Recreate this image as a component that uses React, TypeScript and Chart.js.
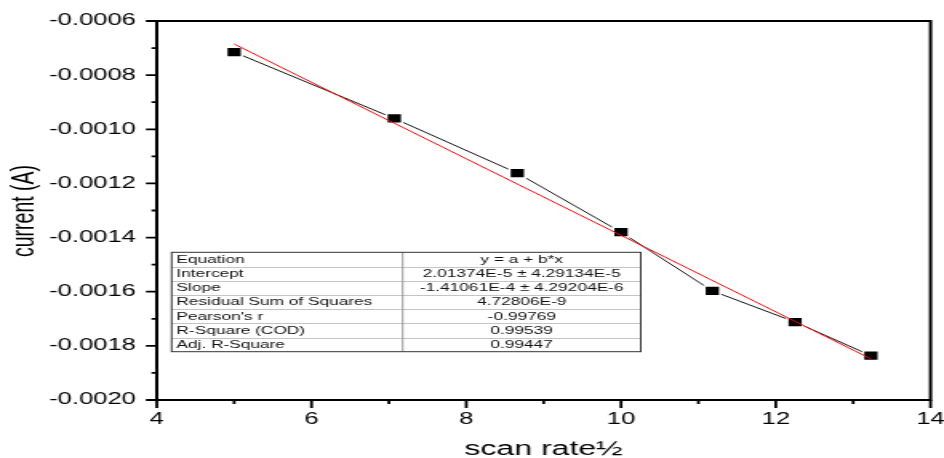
import React, { useEffect, useRef } from "react";
import { Chart, registerables } from "chart.js";

Chart.register(...registerables);

// ---- data ----
const scanRateSqrt = [5.0, 7.07, 8.66, 10.0, 11.18, 12.25, 13.23];
const currentA = [-0.000715, -0.00096, -0.001162, -0.00138, -0.001597, -0.001712, -0.001836];
const fitX = [5.0, 13.23];
const fitY = [-0.000685, -0.001848];

const tableLabels = [
  "Equation",
  "Intercept",
  "Slope",
  "Residual Sum of Squares",
  "Pearson's r",
  "R-Square (COD)",
  "Adj. R-Square",
];
const tableValues = [
  "y = a + b*x",
  "2.01374E-5 ± 4.29134E-5",
  "-1.41061E-4 ± 4.29204E-6",
  "4.72806E-9",
  "-0.99769",
  "0.99539",
  "0.99447",
];

const xTitle = "scan rate½";
const yTitle = "current (A)";

const FONT = '"Liberation Sans", Arial, Helvetica, sans-serif';

// canvas is drawn at 590 px wide and stretched to 944 px (like the reference)
const CANVAS_W = 590;
const CANVAS_H = 458;

const decorPlugin = {
  id: "decor",
  afterDatasetsDraw(chart: any) {
    const ctx = chart.ctx as CanvasRenderingContext2D;
    // fit statistics table
    const x0 = 107.3;
    const x1 = 251.7;
    const x2 = 400.5;
    const y0 = 252.3;
    const rowH = 14.2;
    const n = tableLabels.length;
    ctx.save();
    ctx.fillStyle = "#ffffff";
    ctx.fillRect(x0, y0, x2 - x0, rowH * n);
    ctx.lineWidth = 1;
    ctx.strokeStyle = "#c4c4c4";
    ctx.beginPath();
    for (let i = 1; i < n; i++) {
      const yy = Math.round(y0 + i * rowH) + 0.5;
      ctx.moveTo(x0, yy);
      ctx.lineTo(x2, yy);
    }
    ctx.stroke();
    ctx.strokeStyle = "#9a9a9a";
    ctx.beginPath();
    ctx.moveTo(x1, y0);
    ctx.lineTo(x1, y0 + rowH * n);
    ctx.stroke();
    ctx.strokeStyle = "#333333";
    ctx.strokeRect(x0, y0, x2 - x0, rowH * n);
    ctx.fillStyle = "#111111";
    ctx.font = `10.8px ${FONT}`;
    ctx.textBaseline = "middle";
    for (let i = 0; i < n; i++) {
      const yc = y0 + i * rowH + rowH / 2 + 0.5;
      ctx.textAlign = "left";
      ctx.fillText(tableLabels[i], x0 + 3, yc);
      ctx.textAlign = "center";
      ctx.fillText(tableValues[i], (x1 + x2) / 2, yc);
    }
    ctx.restore();
  },
  afterDraw(chart: any) {
    const ctx = chart.ctx as CanvasRenderingContext2D;
    const { left, right, top, bottom } = chart.chartArea;
    const xs = chart.scales.x;
    const ys = chart.scales.y;
    ctx.save();
    // frame
    ctx.strokeStyle = "#000";
    ctx.lineWidth = 2;
    ctx.strokeRect(left, top, right - left, bottom - top);

    // x ticks (major + minor between)
    ctx.lineWidth = 1.8;
    ctx.beginPath();
    const xp = xs.ticks.map((t: any) => xs.getPixelForValue(t.value));
    xp.forEach((p: number, i: number) => {
      ctx.moveTo(p, bottom);
      ctx.lineTo(p, bottom + 8);
      if (i > 0) {
        const m = (xp[i - 1] + p) / 2;
        ctx.moveTo(m, bottom);
        ctx.lineTo(m, bottom + 4);
      }
    });
    ctx.stroke();

    // y ticks
    ctx.lineWidth = 1.8;
    ctx.beginPath();
    const yp = ys.ticks.map((t: any) => ys.getPixelForValue(t.value));
    yp.forEach((p: number, i: number) => {
      ctx.moveTo(left, p);
      ctx.lineTo(left - 6.8, p);
      if (i > 0) {
        const m = (yp[i - 1] + p) / 2;
        ctx.moveTo(left, m);
        ctx.lineTo(left - 3.3, m);
      }
    });
    ctx.stroke();

    // axis titles
    ctx.fillStyle = "#000";
    ctx.font = `20px ${FONT}`;
    ctx.textAlign = "center";
    ctx.textBaseline = "alphabetic";
    ctx.fillText(xTitle, (left + right) / 2, 455);

    ctx.save();
    ctx.translate(16, 211);
    ctx.rotate(-Math.PI / 2);
    ctx.font = `19.5px ${FONT}`;
    ctx.textAlign = "center";
    ctx.textBaseline = "middle";
    ctx.fillText(yTitle, 0, 0);
    ctx.restore();

    ctx.restore();
  },
};

const noScalePadding = (s: any) => {
  s.paddingLeft = 0;
  s.paddingRight = 0;
  s.paddingTop = 0;
  s.paddingBottom = 0;
};

export default function App() {
  const canvasRef = useRef<HTMLCanvasElement | null>(null);

  useEffect(() => {
    const canvas = canvasRef.current;
    if (!canvas) return;
    const chart = new Chart(canvas, {
      type: "scatter",
      data: {
        datasets: [
          {
            label: "fit",
            data: fitX.map((x, i) => ({ x, y: fitY[i] })),
            showLine: true,
            borderColor: "#ff0000",
            borderWidth: 1,
            pointRadius: 0,
            order: 1,
          },
          {
            label: "current",
            data: scanRateSqrt.map((x, i) => ({ x, y: currentA[i] })),
            showLine: true,
            borderColor: "#111111",
            borderWidth: 1,
            pointStyle: "rect",
            pointRadius: 6.9,
            pointBackgroundColor: "#000000",
            pointBorderColor: "#ffffff",
            pointBorderWidth: 1.5,
            order: 2,
          },
        ],
      },
      options: {
        responsive: false,
        animation: false,
        devicePixelRatio: 1,
        events: [],
        layout: { padding: { top: 21, right: 7.5, left: 0, bottom: 0 } },
        plugins: {
          legend: { display: false },
          tooltip: { enabled: false },
        },
        scales: {
          x: {
            type: "linear",
            min: 4,
            max: 14,
            grid: { display: false, drawTicks: false },
            border: { display: false },
            ticks: {
              stepSize: 2,
              autoSkip: false,
              color: "#000",
              padding: 10,
              font: { family: FONT, size: 16 },
            },
            afterFit: (s: any) => {
              s.height = 58;
              noScalePadding(s);
            },
          },
          y: {
            type: "linear",
            min: -0.002,
            max: -0.0006,
            grid: { display: false, drawTicks: false },
            border: { display: false },
            ticks: {
              stepSize: 0.0002,
              autoSkip: false,
              color: "#000",
              padding: 13,
              font: { family: FONT, size: 16 },
              callback: (v: any) => Number(v).toFixed(4),
            },
            afterFit: (s: any) => {
              s.width = 98;
              noScalePadding(s);
            },
          },
        },
      },
      plugins: [decorPlugin],
    });
    return () => chart.destroy();
  }, []);

  return (
    <div style={{ position: "fixed", left: 0, top: 0, width: 944, height: 458, background: "#fff" }}>
      <canvas
        ref={canvasRef}
        width={CANVAS_W}
        height={CANVAS_H}
        style={{ width: "944px", height: "458px", display: "block" }}
      />
    </div>
  );
}
